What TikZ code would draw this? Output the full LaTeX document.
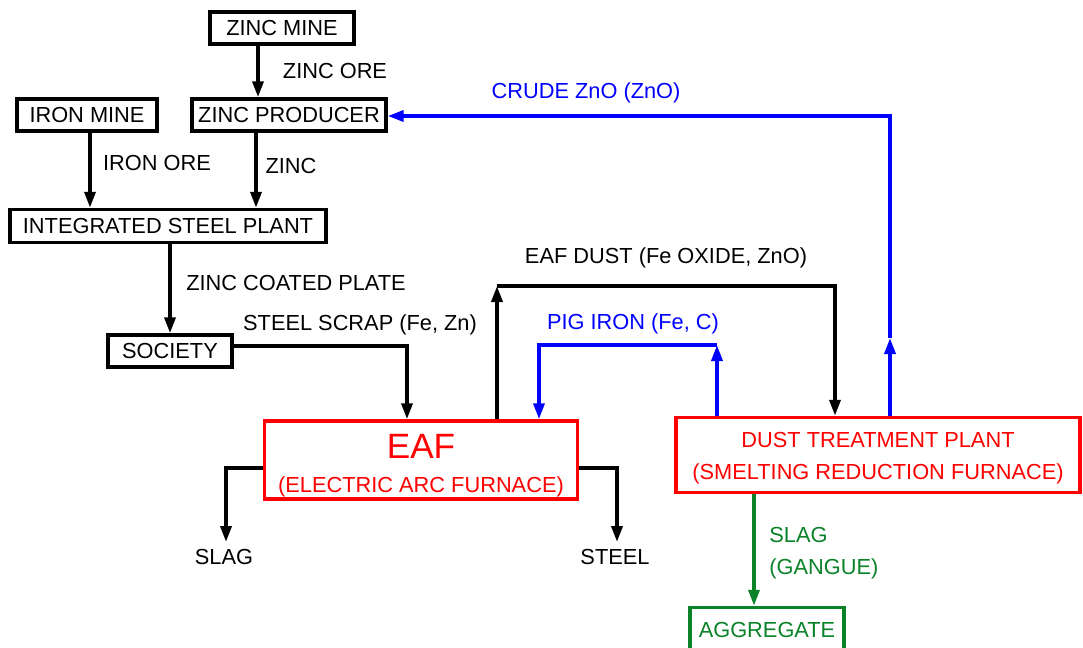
\documentclass[tikz,border=0pt]{standalone}
\usepackage{fontspec}
\setmainfont{Liberation Sans}
\usetikzlibrary{arrows.meta}

\definecolor{furnred}{RGB}{255,0,0}
\definecolor{recblue}{RGB}{0,0,255}
\definecolor{slaggreen}{RGB}{10,130,40}

\begin{document}
\begin{tikzpicture}[
    x=0.02cm, y=-0.02cm,
    font=\fontsize{12.4}{14}\selectfont,
    box/.style={draw, line width=2pt, inner sep=0pt, align=center},
    flow/.style={-{Triangle[length=3.2mm,width=2.2mm]}, line width=2pt},
    lbl/.style={inner sep=0pt, align=left}
]

\useasboundingbox (0,0) rectangle (1083,647);

% Boxes
\node[box, minimum width=2.88cm, minimum height=0.64cm] (zincmine) at (282,28) {ZINC MINE};
\node[box, minimum width=3.88cm, minimum height=0.64cm] (zincprod) at (289,115) {ZINC PRODUCER};
\node[box, minimum width=2.8cm, minimum height=0.64cm] (ironmine) at (87,115) {IRON MINE};
\node[box, minimum width=6.32cm, minimum height=0.66cm] (isp) at (168,226) {INTEGRATED STEEL PLANT};
\node[box, minimum width=2.48cm, minimum height=0.64cm] (society) at (170,351) {SOCIETY};
\node[box, draw=furnred, text=furnred, minimum width=6.26cm, minimum height=1.56cm] (eaf) at (421,460)
    {\rule{0pt}{20pt}{\fontsize{20}{21}\selectfont EAF}\\[5pt] (ELECTRIC ARC FURNACE)};
\node[box, draw=furnred, text=furnred, minimum width=8.08cm, minimum height=1.5cm] (dtp) at (878,455)
    {\rule{0pt}{12pt}DUST TREATMENT PLANT\\[4pt] (SMELTING REDUCTION FURNACE)};
\node[box, draw=slaggreen, text=slaggreen, minimum width=3.08cm, minimum height=0.9cm] (aggregate) at (767,630) {AGGREGATE};

% Labels
\node[lbl] (lzincore) at (335,71) {ZINC ORE};
\node[lbl] (lironore) at (157,163) {IRON ORE};
\node[lbl] (lzinc) at (291,166) {ZINC};
\node[lbl] (lplate) at (296,283) {ZINC COATED PLATE};
\node[lbl] (lscrap) at (360,325) {STEEL SCRAP (Fe, Zn)};
\node[lbl] (ldust) at (666,258) {EAF DUST (Fe OXIDE, ZnO)};
\node[lbl, text=recblue] (lpig) at (633,324) {PIG IRON (Fe, C)};
\node[lbl, text=recblue] (lcrude) at (586,93) {CRUDE ZnO (ZnO)};
\node[lbl] (lslag) at (224,557) {SLAG};
\node[lbl] (lsteel) at (615,557) {STEEL};
\node[lbl, text=slaggreen, anchor=west] (lgangue) at (769,553) {SLAG\\[4pt] (GANGUE)};

% Free ends
\coordinate (dustturn) at (497,286);
\coordinate (pigturn) at (717,345);
\coordinate (crudemid) at (890,338);
\coordinate (slagend) at (226,542);
\coordinate (steelend) at (617,542);

% Black flows
\draw[flow] (258,0 |- zincmine.south) -- (258,0 |- zincprod.north);
\draw[flow] (90,0 |- ironmine.south) -- (90,0 |- isp.north);
\draw[flow] (256,0 |- zincprod.south) -- (256,0 |- isp.north);
\draw[flow] (170,0 |- isp.south) -- (society.north);
\draw[flow] (society.east |- 0,346) -- (407,346) -- (407,0 |- eaf.north);
\draw[flow] (dustturn |- eaf.north) -- (dustturn);
\draw[flow] (dustturn) -- (835,286) -- (835,0 |- dtp.north);
\draw[flow] (eaf.west |- 0,468) -- (slagend |- 0,468) -- (slagend);
\draw[flow] (eaf.east |- 0,468) -- (steelend |- 0,468) -- (steelend);

% Blue flows
\draw[flow, recblue] (pigturn |- dtp.north) -- (pigturn);
\draw[flow, recblue] (pigturn) -- (539,345) -- (539,0 |- eaf.north);
\draw[flow, recblue] (crudemid |- dtp.north) -- (crudemid);
\draw[flow, recblue] (crudemid) -- (890,116) -- (zincprod.east |- 0,116);

% Green flow
\draw[flow, slaggreen] (754,0 |- dtp.south) -- (754,0 |- aggregate.north);

\end{tikzpicture}
\end{document}
